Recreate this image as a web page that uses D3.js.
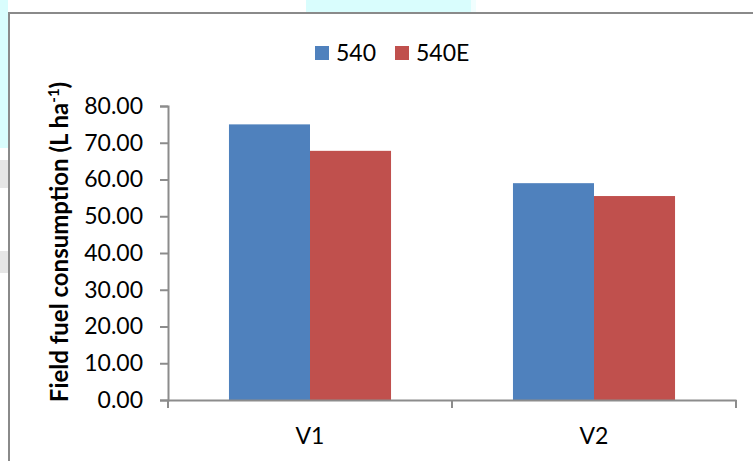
<!DOCTYPE html>
<html>
<head>
<meta charset="utf-8">
<script src="https://cdn.jsdelivr.net/npm/d3@7"></script>
<style>
  html, body { margin: 0; padding: 0; background: #ffffff; }
  svg { display: block; }
  text { font-family: Lato, "Open Sans", sans-serif; fill: #000; }
</style>
</head>
<body>
<svg id="chart" width="753" height="461"></svg>
<script>
// Field fuel consumption per variant, two machine versions
const categories = ["V1", "V2"];
const seriesNames = ["540", "540E"];
const values540 = [75.0, 59.0];
const values540E = [67.8, 55.5];
const yTicks = [0, 10, 20, 30, 40, 50, 60, 70, 80];
const colors = ["#4f81bd", "#c0504d"];

const svg = d3.select("#chart");
const W = 753, H = 461;

// page background strips and frame
svg.append("rect").attr("x", 0).attr("y", 0).attr("width", 8).attr("height", 148).attr("fill", "#d9fdfd");
svg.append("rect").attr("x", 0).attr("y", 160).attr("width", 8).attr("height", 28).attr("fill", "#e6e6e6");
svg.append("rect").attr("x", 0).attr("y", 251).attr("width", 8).attr("height", 22).attr("fill", "#e6e6e6");
svg.append("rect").attr("x", 306).attr("y", 0).attr("width", 165).attr("height", 12).attr("fill", "#d9fdfd");
svg.append("rect").attr("x", 471).attr("y", 0).attr("width", 5).attr("height", 12).attr("fill", "#f1fefe");
svg.append("path").attr("d", `M9,${H} V13 H${W}`).attr("fill", "none")
  .attr("stroke", "#8a8a8a").attr("stroke-width", 2);

const plot = { left: 168, right: 736, top: 106, bottom: 400 };

const x = d3.scaleBand().domain(categories).range([plot.left, plot.right]).padding(0);
const y = d3.scaleLinear().domain([0, 80]).range([plot.bottom, plot.top]);
const inner = d3.scaleBand().domain(seriesNames)
  .range([0, x.bandwidth()]).paddingInner(0).paddingOuter(0.7524);

const rows = categories.map((c, i) => ({ cat: c, vals: [values540[i], values540E[i]] }));

// bars
const groups = svg.append("g").selectAll("g").data(rows).join("g")
  .attr("transform", d => `translate(${x(d.cat)},0)`);
groups.selectAll("rect").data(d => d.vals.map((v, j) => ({ name: seriesNames[j], v, j })))
  .join("rect")
  .attr("x", d => inner(d.name))
  .attr("y", d => y(d.v))
  .attr("width", inner.bandwidth())
  .attr("height", d => y(0) - y(d.v))
  .attr("fill", d => colors[d.j]);

const axisColor = "#8c8c8c";

// y axis
const yAxis = svg.append("g").attr("transform", `translate(${plot.left},0)`)
  .call(d3.axisLeft(y).tickValues(yTicks).tickFormat(d3.format(".2f")).tickSize(8).tickPadding(17));
yAxis.select(".domain").attr("stroke", axisColor).attr("stroke-width", 2);
yAxis.selectAll(".tick line").attr("stroke", axisColor).attr("stroke-width", 2);
yAxis.selectAll(".tick text").attr("font-size", 23).attr("font-family", "Lato, sans-serif").attr("fill", "#000");

// x axis
const xAxis = svg.append("g").attr("transform", `translate(0,${plot.bottom})`)
  .call(d3.axisBottom(x).tickSize(0).tickPadding(28));
xAxis.select(".domain").attr("stroke", axisColor).attr("stroke-width", 2);
xAxis.selectAll(".tick text").attr("font-size", 23).attr("font-family", "Lato, sans-serif").attr("fill", "#000");
// category boundary ticks
const bounds = categories.map(c => x(c)).concat([x(categories[categories.length - 1]) + x.bandwidth()]);
xAxis.selectAll("line.bound").data(bounds).join("line").attr("class", "bound")
  .attr("x1", d => d).attr("x2", d => d).attr("y1", 0).attr("y2", 8)
  .attr("stroke", axisColor).attr("stroke-width", 2);

// y axis title
const title = svg.append("text")
  .attr("transform", `translate(68,242) rotate(-90)`)
  .attr("text-anchor", "middle")
  .attr("font-size", 24).attr("font-weight", "bold");
title.append("tspan").text("Field fuel consumption (L ha");
title.append("tspan").text("-1").attr("font-size", 15).attr("dy", -9);
title.append("tspan").text(")").attr("dy", 9);

// legend
const legend = svg.append("g");
const legendItems = [{ name: seriesNames[0], x: 315 }, { name: seriesNames[1], x: 395 }];
legendItems.forEach((d, i) => {
  legend.append("rect").attr("x", d.x).attr("y", 46).attr("width", 14).attr("height", 14).attr("fill", colors[i]);
  legend.append("text").attr("x", d.x + 21).attr("y", 61).attr("font-size", 23).text(d.name);
});
</script>
</body>
</html>
